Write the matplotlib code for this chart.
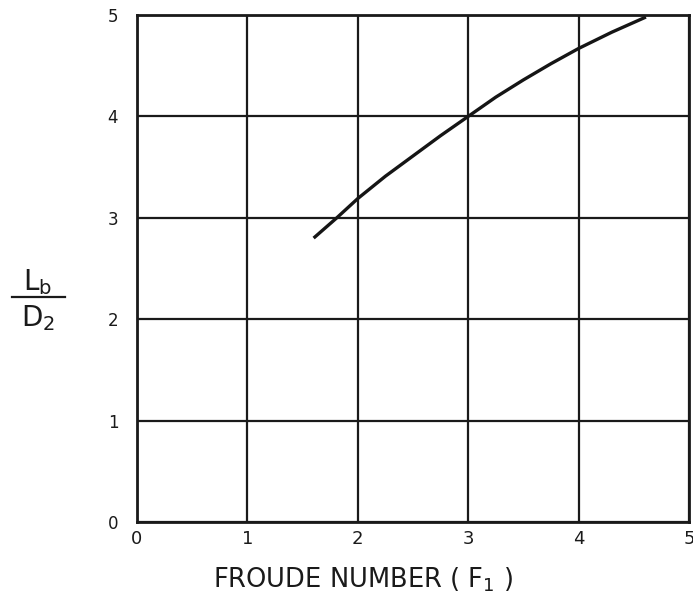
import matplotlib
matplotlib.use('Agg')
import matplotlib.pyplot as plt
from matplotlib.lines import Line2D

# curve
froude = [1.60, 1.81, 2.0, 2.25, 2.5, 2.75, 3.0, 3.25, 3.5, 3.75, 4.0, 4.3, 4.61]
lb_d2 = [2.80, 3.00, 3.19, 3.41, 3.61, 3.81, 4.00, 4.19, 4.36, 4.52, 4.67, 4.83, 4.98]

xticks = [0, 1, 2, 3, 4, 5]
yticks = [0, 1, 2, 3, 4, 5]

plt.rcParams['font.family'] = ['DejaVu Sans']
plt.rcParams['mathtext.default'] = 'regular'
ink = '#1a1a1a'

W, H = 693, 601
fig = plt.figure(figsize=(W / 100, H / 100), dpi=100)
ax = fig.add_axes([137 / W, 1 - 522 / H, 552 / W, 507 / H])

ax.plot(froude, lb_d2, color='#151515', linewidth=2.4, solid_capstyle='butt')

ax.set_xlim(0, 5)
ax.set_ylim(0, 5)
ax.set_xticks(xticks)
ax.set_yticks(yticks)
ax.tick_params(axis='x', length=0, labelsize=13, colors=ink, pad=6)
ax.tick_params(axis='y', length=0, labelsize=12, colors=ink, pad=13.5)
ax.grid(True, color=ink, linewidth=1.6)
for s in ax.spines.values():
    s.set_linewidth(2.0)
    s.set_color(ink)

# x label, placed like the original (a bit left of centre)
fig.text(363 / W, 1 - 580 / H, 'FROUDE NUMBER ( $F_1$ )', fontsize=18.5,
         color=ink, ha='center', va='center')

# y label drawn as a stacked fraction
fig.text(38 / W, 1 - 282 / H, '$L_b$', fontsize=20, color=ink, ha='center', va='center')
fig.text(38 / W, 1 - 318 / H, '$D_2$', fontsize=20, color=ink, ha='center', va='center')
fig.add_artist(Line2D([12 / W, 65 / W], [1 - 297 / H, 1 - 297 / H],
                      transform=fig.transFigure, color=ink, linewidth=1.6))

fig.savefig('out.png', dpi=100)
